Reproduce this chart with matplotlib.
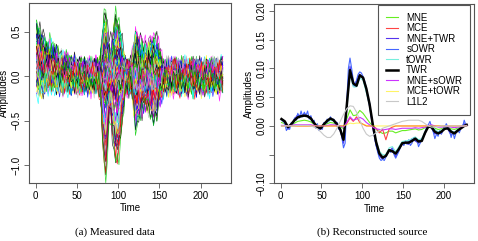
#!/usr/bin/env python3
# Two panels: measured sensor data (a) and reconstructed source time courses (b)

import numpy as np
import matplotlib
matplotlib.use('Agg')
import matplotlib.pyplot as plt

plt.rcParams['font.family'] = ['Liberation Sans', 'DejaVu Sans']

# sample grids: every 2nd sample, and every 4th sample plus the last one
t_fine = np.arange(1, 228, 2)
t_coarse = np.r_[np.arange(1, 226, 4), 228]

# ---- panel (a): sensor traces = offset + typed components + typed jitter (on t_fine) ----
decay = [1.0, 0.93, 0.86, 0.78, 0.71, 0.65, 0.59, 0.55, 0.51, 0.47, 0.44, 0.41, 0.38, 0.34,
         0.30, 0.27, 0.24, 0.21, 0.18, 0.16, 0.14, 0.12, 0.10, 0.09, 0.08, 0.07, 0.06, 0.05,
         0.04, 0.03, 0.02, 0.01] + [0.0] * 82
evoked = [0.0] * 37 + [0.0, 0.05, 0.25, 0.6, 0.92, 1.0, 0.7, 0.42, 0.38, 0.55, 0.75, 0.88,
                       0.85, 0.78, 0.6, 0.42, 0.25, 0.12, 0.04, 0.0] + [0.0] * 57
late = [0.0] * 57 + [0.05, 0.25, 0.6, 0.9, 0.85, 0.7, 0.62, 0.58, 0.52, 0.5, 0.52, 0.58,
                     0.66, 0.72, 0.75, 0.72, 0.62, 0.48, 0.32, 0.18, 0.08, 0.02] + [0.0] * 35
jitter1 = [0.3, -0.5, 0.8, -0.2, 0.6, -0.9, 0.1, 0.7, -0.4, 0.9,
           -0.7, 0.2, -0.1, 0.5, -0.8, 0.4, -0.3, 1.0, -0.6, 0.0,
           0.6, -0.9, 0.3, -0.2, 0.8, -0.5, 0.1, -0.7, 0.9, -0.3,
           0.4, -1.0, 0.5, 0.2, -0.6, 0.7, -0.1, -0.8, 0.6, 0.3,
           -0.4, 0.9, -0.6, 0.1, -0.2, 0.7, -0.9, 0.4, 0.0, -0.5,
           0.8, -0.3, 0.5, -0.7, 0.2, 0.6, -0.4, 0.1, -0.8, 0.7,
           -0.2, 0.9, -0.5, 0.3, -1.0, 0.4, 0.6, -0.3, 0.8, -0.6,
           0.1, -0.4, 0.7, -0.9, 0.5, -0.1, 0.3, -0.7, 1.0, -0.2,
           0.6, -0.8, 0.2, 0.4, -0.5, 0.9, -0.3, -0.6, 0.7, 0.0,
           -0.9, 0.5, -0.2, 0.8, -0.4, 0.1, -0.7, 0.6, 0.3, -0.5,
           0.9, -0.1, -0.6, 0.4, -0.8, 0.7, 0.2, -0.3, 0.5, -1.0,
           0.3, 0.6, -0.4, 0.8]
jitter2 = [0.5, 0.8, 0.9, 0.6, 0.2, -0.3, -0.7, -0.9,
           -0.8, -0.4, 0.1, 0.5, 0.8, 0.7, 0.3, -0.2,
           -0.6, -0.9, -0.7, -0.2, 0.3, 0.7, 0.9, 0.6,
           0.1, -0.4, -0.8, -0.9, -0.5, 0.0, 0.5, 0.8,
           0.9, 0.5, -0.1, -0.6, -0.9, -0.8, -0.3, 0.2,
           0.6, 0.9, 0.7, 0.2, -0.3, -0.7, -0.9, -0.6,
           -0.1, 0.4, 0.8, 0.9, 0.5, 0.0, -0.5, -0.8,
           -0.9, -0.5, 0.1, 0.6, 0.9, 0.7, 0.2, -0.4,
           -0.8, -0.9, -0.4, 0.1, 0.6, 0.8, 0.7, 0.2,
           -0.3, -0.7, -0.9, -0.6, -0.1, 0.4, 0.8, 0.9,
           0.5, -0.1, -0.6, -0.9, -0.7, -0.2, 0.3, 0.7,
           0.9, 0.6, 0.1, -0.4, -0.8, -0.9, -0.5, 0.0,
           0.5, 0.8, 0.9, 0.4, -0.2, -0.7, -0.9, -0.6,
           -0.1, 0.4, 0.8, 0.8, 0.3, -0.2, -0.6, -0.9,
           -0.7, -0.2]

w_evoked = [-1.12, -0.95, -0.85, -0.7, -0.6, -0.5, -0.42, -0.35, -0.3, -0.25, -0.2, -0.15,
            -0.12, -0.08, -0.05, -0.02, 0.0, 0.02, 0.05, 0.08, 0.1, 0.12, 0.15, 0.2,
            0.25, 0.3, 0.35, 0.4, 0.45, 0.5, 0.55, 0.62, 0.7, -0.18, 0.18, -0.28,
            0.28, -0.4, 0.38, -0.55, 0.48, -0.65, 0.58, -0.78, 0.05, -0.1, 0.12, -0.9]
w_decay = [0.5, 0.1, 0.3, 0.0, 0.4, 0.2, -0.1, 0.35, 0.05, 0.25, 0.45, 0.15,
           0.0, 0.3, 0.1, 0.4, -0.05, 0.2, 0.5, 0.05, 0.35, 0.15, 0.25, 0.0,
           0.45, 0.1, 0.3, 0.2, -0.1, 0.4, 0.05, 0.25, 0.15, 0.35, 0.0, 0.5,
           0.2, 0.1, 0.3, -0.05, 0.4, 0.15, 0.25, 0.05, 0.45, 0.1, 0.35, 0.2]
w_late = [-0.6, -0.4, -0.5, -0.3, -0.45, -0.2, -0.1, -0.35, 0.1, -0.15, 0.2, -0.05,
          0.3, 0.0, 0.15, -0.1, 0.25, 0.05, 0.4, -0.2, 0.45, 0.1, 0.5, 0.3,
          0.2, 0.35, -0.25, 0.45, 0.15, 0.55, 0.3, 0.4, 0.5, -0.3, 0.2, 0.1,
          -0.1, -0.4, 0.35, -0.5, 0.3, -0.2, 0.25, -0.45, 0.0, 0.15, -0.05, -0.35]
offsets = [0.02, -0.05, 0.06, -0.08, 0.0, 0.04, -0.03, 0.07, -0.06, 0.01, -0.1, 0.05,
           -0.02, 0.08, -0.04, 0.03, -0.07, 0.0, 0.06, -0.01, -0.09, 0.04, -0.05, 0.02,
           0.07, -0.03, 0.01, -0.06, 0.05, -0.08, 0.03, -0.02, 0.06, -0.04, 0.0, -0.07,
           0.08, -0.01, 0.04, -0.05, 0.02, -0.09, 0.05, -0.03, 0.07, -0.06, 0.01, -0.02]
shift1 = [0, 15, 30, 45, 60, 75, 90, 105, 7, 22, 37, 52, 67, 82, 97, 112, 14, 29, 44, 59, 74, 89,
          104, 5, 21, 36, 51, 66, 81, 96, 111, 12, 28, 43, 58, 73, 88, 103, 4, 19, 35, 50, 65, 80,
          95, 110, 11, 26]
shift2 = [0, 23, 46, 69, 92, 1, 24, 47, 70, 93, 2, 25, 48, 71, 94, 3, 26, 49, 72, 95, 4, 27, 50,
          73, 96, 5, 28, 51, 74, 97, 6, 29, 52, 75, 98, 7, 30, 53, 76, 99, 8, 31, 54, 77, 100, 9,
          32, 55]
r_palette = ['black', '#ff0000', '#00cd00', '#0000ff', '#00ffff', '#ff00ff', '#ffff00', '#bebebe']

# ---- panel (b): reconstructed source for each method ----
methods = ['MNE', 'MCE', 'MNE+TWR', 'sOWR', 'tOWR', 'TWR', 'MNE+sOWR', 'MCE+tOWR', 'L1L2']
mne = [0.006, 0.004, -0.002, 0.001, 0.005, 0.008, 0.009, 0.010, 0.009, 0.007,
       0.003, 0.000, -0.002, 0.001, 0.004, 0.006, 0.005, 0.002, -0.002, -0.004,
       0.012, 0.028, 0.018, 0.019, 0.027, 0.022, 0.014, 0.006, 0.000, -0.006,
       -0.010, -0.013, -0.012, -0.009, -0.009, -0.012, -0.010, -0.008, -0.008, -0.007,
       -0.006, -0.005, -0.007, -0.006, -0.003, 0.000, 0.000, -0.004, -0.006, -0.005,
       -0.002, -0.002, -0.005, -0.006, -0.004, -0.002, 0.000, 0.001]
mce = [0.0] * 20 + [0.004, 0.014, 0.008, 0.016, 0.006, 0.003, 0.0, 0.0, 0.0, -0.004,
                    -0.012, -0.006, -0.024, -0.005, -0.002] + [0.0] * 23
mne_twr = [0.010, 0.006, -0.006, 0.004, 0.012, 0.020, 0.016, 0.022, 0.016, 0.016,
           0.004, 0.002, -0.006, 0.004, 0.006, 0.014, 0.008, 0.006, -0.008, -0.030,
           0.036, 0.104, 0.070, 0.078, 0.090, 0.082, 0.062, 0.034, -0.004, -0.034,
           -0.052, -0.058, -0.052, -0.044, -0.038, -0.054, -0.040, -0.032, -0.028, -0.032,
           -0.022, -0.026, -0.030, -0.022, -0.014, 0.002, -0.004, -0.014, -0.010, -0.014,
           0.000, -0.006, -0.016, -0.010, -0.010, -0.002, 0.004, 0.000]
sowr = [0.012, 0.010, 0.004, -0.008, -0.003, -0.006, 0.006, 0.004, 0.014, 0.010,
        0.022, 0.014, 0.026, 0.016, 0.024, 0.018, 0.026, 0.012, 0.018, 0.006,
        0.010, -0.004, 0.004, -0.008, -0.002, -0.006, 0.006, 0.004, 0.012, 0.008,
        0.016, 0.010, 0.012, 0.004, 0.006, -0.006, -0.002, -0.020, -0.038, -0.030,
        0.040, 0.100, 0.118, 0.100, 0.080, 0.068, 0.080, 0.090, 0.094, 0.092,
        0.086, 0.078, 0.066, 0.052, 0.040, 0.020, 0.002, -0.018, -0.034, -0.046,
        -0.056, -0.060, -0.058, -0.060, -0.054, -0.048, -0.042, -0.046, -0.040, -0.050,
        -0.056, -0.050, -0.044, -0.036, -0.030, -0.034, -0.026, -0.032, -0.024, -0.034,
        -0.030, -0.020, -0.026, -0.024, -0.036, -0.030, -0.024, -0.018, -0.010, -0.002,
        0.002, 0.008, -0.002, -0.010, -0.022, -0.014, -0.018, -0.008, -0.014, -0.006,
        -0.004, 0.004, -0.002, -0.008, -0.020, -0.010, -0.022, -0.012, -0.006, -0.012,
        -0.004, -0.002, 0.010, 0.002]
towr = [0.010, 0.007, -0.002, 0.003, 0.009, 0.014, 0.016, 0.017, 0.016, 0.012,
        0.005, 0.001, -0.003, 0.002, 0.007, 0.010, 0.009, 0.004, -0.004, -0.020,
        0.028, 0.090, 0.068, 0.068, 0.083, 0.080, 0.058, 0.036, 0.002, -0.026,
        -0.044, -0.050, -0.050, -0.038, -0.036, -0.045, -0.036, -0.027, -0.026, -0.025,
        -0.022, -0.019, -0.024, -0.022, -0.010, -0.001, 0.001, -0.006, -0.010, -0.008,
        -0.003, -0.003, -0.008, -0.011, -0.006, -0.003, 0.000, 0.002]
twr = [0.012, 0.008, -0.002, 0.003, 0.010, 0.015, 0.017, 0.018, 0.017, 0.013,
       0.005, -0.002, -0.004, 0.003, 0.009, 0.013, 0.010, 0.003, -0.006, -0.024,
       0.035, 0.097, 0.074, 0.070, 0.088, 0.084, 0.065, 0.038, 0.002, -0.028,
       -0.048, -0.055, -0.052, -0.042, -0.044, -0.048, -0.040, -0.030, -0.029, -0.029,
       -0.026, -0.022, -0.027, -0.026, -0.012, -0.001, -0.002, -0.010, -0.013, -0.010,
       -0.005, -0.004, -0.010, -0.013, -0.008, -0.004, 0.000, 0.002]
mne_sowr = [0.001, 0.001, 0.000, 0.001, 0.002, 0.002, 0.002, 0.002, 0.002, 0.002,
            0.001, 0.000, 0.000, 0.000, 0.001, 0.002, 0.002, 0.001, 0.000, -0.002,
            0.006, 0.016, 0.010, 0.012, 0.015, 0.012, 0.006, 0.002, -0.002, -0.005,
            -0.006, -0.007, -0.006, -0.005, -0.005, -0.006, -0.005, -0.004, -0.004, -0.004,
            -0.004, -0.003, -0.004, -0.003, -0.002, 0.001, 0.002, 0.000, -0.002, -0.002,
            -0.001, -0.001, -0.002, -0.003, -0.002, -0.001, 0.000, 0.001]
mce_towr = [0.0] * 20 + [0.002, 0.005, 0.004, 0.005, 0.005, 0.003, 0.001] + [0.0] * 31
l1l2 = [0.000, 0.000, 0.000, 0.000, 0.000, 0.001, 0.001, 0.001, 0.001, 0.000,
        -0.002, -0.005, -0.010, -0.016, -0.020, -0.020, -0.014, -0.004, 0.008, 0.020,
        0.030, 0.035, 0.034, 0.024, 0.010, -0.004, -0.014, -0.018, -0.016, -0.012,
        -0.008, -0.004, -0.002, 0.000, 0.002, 0.004, 0.006, 0.008, 0.009, 0.010,
        0.010, 0.010, 0.010, 0.008, 0.004, 0.000, -0.002, -0.002, -0.001, 0.000,
        0.000, 0.000, 0.000, 0.000, 0.000, 0.000, 0.000, 0.000]

series = [mne, mce, mne_twr, sowr, towr, twr, mne_sowr, mce_towr, l1l2]
colors = ['#66ee22', '#ff4444', '#5533ee', '#4466ff', '#77eedd', 'black', '#cc33ff', '#ffee00', '#c8c8c8']
widths = [0.8, 0.8, 0.8, 0.8, 0.8, 1.8, 0.8, 0.8, 0.8]
alphas = [1, 1, 1, 1, 1, 1, 1, 0.6, 1]

spine_col = '#555555'


def style_axes(ax):
  for s in ax.spines.values():
    s.set_color(spine_col)
    s.set_linewidth(0.8)
  ax.tick_params(direction='out', length=3.5, width=0.6, color=spine_col,
                 labelsize=7, pad=2)
  for lab in ax.get_yticklabels():
    lab.set_rotation(90)
    lab.set_va('center')
  ax.set_xlabel('Time', fontsize=7, labelpad=2)
  ax.set_ylabel('Amplitudes', fontsize=7, labelpad=2)


fig = plt.figure(figsize=(4.78, 2.41), dpi=100)
ax1 = fig.add_axes([0.0607, 0.2407, 0.4226, 0.7469])
ax2 = fig.add_axes([0.5732, 0.2386, 0.4184, 0.7448])

# a) measured data: two passes over the typed channel weights with swapped jitter shifts
dec, evo, lat = np.array(decay), np.array(evoked), np.array(late)
n = len(w_evoked)
for p in range(2):
  for i in range(n):
    j = i if p == 0 else n - 1 - i
    s1, s2 = (shift1[i], shift2[i]) if p == 0 else (shift2[i], shift1[i])
    trace = (offsets[i] + w_decay[j] * dec + w_evoked[j] * evo + w_late[j] * lat
             + 0.11 * np.roll(jitter1, s1) + 0.08 * np.roll(jitter2, s2))
    ax1.plot(t_fine, trace, color=r_palette[(i + p * 3) % 8], lw=0.45, alpha=0.85)
ax1.set_xlim(-8.2, 237)
ax1.set_ylim(-1.2, 0.82)
ax1.set_xticks([0, 50, 100, 150, 200])
ax1.set_yticks([-1.0, -0.5, 0.0, 0.5])
ax1.set_yticklabels(['\u22121.0', '\u22120.5', '0.0', '0.5'])
style_axes(ax1)

# b) reconstructed source
for name, y, c, w, a in zip(methods, series, colors, widths, alphas):
  x = t_fine if len(y) == len(t_fine) else t_coarse
  ax2.plot(x, y, color=c, lw=w, alpha=a, label=name)
ax2.set_xlim(-8.2, 237)
ax2.set_ylim(-0.10, 0.212)
ax2.set_xticks([0, 50, 100, 150, 200])
ax2.set_yticks([-0.10, -0.05, 0.0, 0.05, 0.10, 0.15, 0.20])
ax2.set_yticklabels(['\u22120.10', '', '0.00', '0.05', '0.10', '0.15', '0.20'])
style_axes(ax2)
leg = ax2.legend(loc='upper right', bbox_to_anchor=(0.98, 0.994), borderaxespad=0,
                 fontsize=7, handlelength=1.2, handletextpad=0.85, borderpad=0.8,
                 labelspacing=0.05, fancybox=False, framealpha=1)
leg.get_frame().set_edgecolor(spine_col)
leg.get_frame().set_linewidth(0.8)

fig.text(0.2406, 0.037, '(a) Measured data', ha='center', va='center',
         family='Liberation Serif', fontsize=8)
fig.text(0.778, 0.037, '(b) Reconstructed source', ha='center', va='center',
         family='Liberation Serif', fontsize=8)

fig.savefig('out.png', dpi=100)
